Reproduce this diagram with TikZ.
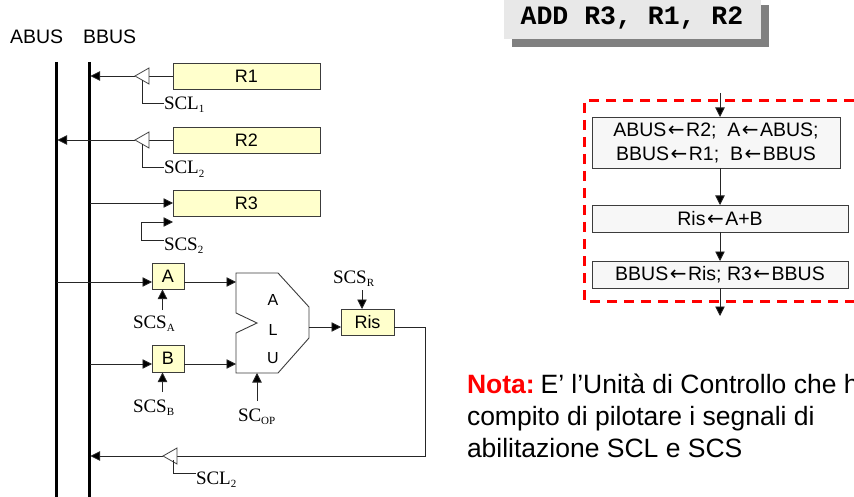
\documentclass[tikz,border=0pt]{standalone}
\usepackage{fontspec}
\setmainfont{Liberation Sans}
\newfontfamily\timesf{Liberation Serif}
\newfontfamily\courf{Liberation Mono}
\newfontfamily\arrowf{DejaVu Sans}
\usetikzlibrary{arrows.meta}
\definecolor{regfill}{RGB}{255,255,204}
\definecolor{edgegray}{RGB}{60,60,60}
\definecolor{addfill}{RGB}{232,232,232}
\definecolor{shadowgray}{RGB}{128,128,128}
\definecolor{stepfill}{RGB}{247,247,247}
\definecolor{dashred}{RGB}{255,0,0}
\newcommand{\sig}[2]{{\timesf\fontsize{19}{20}\selectfont #1\raisebox{-3.5pt}{\fontsize{11}{11}\selectfont #2}}}
\newcommand{\lar}{{\kern1.5pt\arrowf\fontsize{20}{24}\selectfont ←\kern1.5pt}}
\tikzset{
  x=1pt,y=-1pt,
  bus/.style={line width=3pt,black},
  wire/.style={line width=0.8pt,draw=black!85},
  arrowwire/.style={wire,-{Triangle[length=9.5pt,width=9.5pt,fill=black]}},
  regbox/.style={draw=edgegray,line width=0.9pt,fill=regfill,inner sep=0,outer sep=0,anchor=north west,font=\fontsize{18}{20}\selectfont},
  stepbox/.style={draw=edgegray,line width=0.9pt,fill=stepfill,inner sep=0,outer sep=0,anchor=north west,align=center,font=\fontsize{19.5}{24}\selectfont},
  buf/.style={draw=edgegray,line width=0.8pt,fill=white},
  sigtext/.style={inner sep=0,outer sep=0,anchor=base west},
  plain/.style={inner sep=0,outer sep=0},
  notetext/.style={plain,anchor=base west,font=\fontsize{26.5}{30}\selectfont},
}
\newcommand{\buffer}[3]{%
  \coordinate (#1-tip) at (#2,#3);
  \coordinate (#1-back) at (#2+14,#3);
  \coordinate (#1-ctl) at (#2+7,#3+4);
  \draw[buf] (#2,#3) -- (#2+14,#3-8) -- (#2+14,#3+8) -- cycle;
}
\begin{document}
\begin{tikzpicture}
\useasboundingbox (0,0) rectangle (854,497);
% bus labels
\node[plain,anchor=west,font=\fontsize{19.5}{20}\selectfont] (abuslbl) at (10,37) {ABUS};
\node[plain,anchor=west,font=\fontsize{19.5}{20}\selectfont] (bbuslbl) at (83,37) {BBUS};
% buses
\coordinate (atop) at (56,62); \coordinate (abot) at (56,497);
\coordinate (btop) at (89,62); \coordinate (bbot) at (89,497);
\draw[bus] (atop) -- (abot);
\draw[bus] (btop) -- (bbot);
\coordinate (a-r2) at (57.5,140);
\coordinate (b-r1) at (90.5,76);
\coordinate (b-r3) at (90,203);
\coordinate (a-ain) at (57,282);
\coordinate (b-bin) at (90,364);
\coordinate (b-res) at (90.5,456);
% registers
\node[regbox,minimum width=147pt,minimum height=26pt] (r1) at (173,63) {R1};
\node[regbox,minimum width=147pt,minimum height=26pt] (r2) at (173,127) {R2};
\node[regbox,minimum width=147pt,minimum height=26pt] (r3) at (173,190) {R3};
% buffers and wires
\draw[wire] (r1.west) -- (149,76);
\draw[arrowwire] (135,76) -- (b-r1);
\buffer{bufa}{135}{76}
\draw[wire] (r2.west) -- (149,140);
\draw[arrowwire] (135,140) -- (a-r2);
\buffer{bufb}{135}{140}
\node[sigtext] (scl1) at (164,109.5) {\sig{SCL}{1}};
\node[sigtext] (scl2) at (164,174) {\sig{SCL}{2}};
\draw[wire] (bufa-ctl) |- ([yshift=6.5pt]scl1.base west);
\draw[wire] (bufb-ctl) |- ([yshift=7pt]scl2.base west);
\draw[arrowwire] (b-r3) -- (r3.west);
\node[sigtext] (scs2) at (164,250.5) {\sig{SCS}{2}};
\coordinate (r3-en) at (173,222);
\draw[arrowwire] ([yshift=10.5pt]scs2.base west) -- (141,240) -- (141,222) -- (r3-en);
% A, B
\node[regbox,minimum width=32pt,minimum height=26pt] (a) at (152,263) {A};
\node[regbox,minimum width=32pt,minimum height=27pt] (b) at (152,345) {B};
\coordinate (a-in) at (152,282); \coordinate (a-out) at (184,282);
\coordinate (b-in) at (152,364); \coordinate (b-out) at (184,364);
\draw[arrowwire] (a-ain) -- (a-in);
\draw[arrowwire] (b-bin) -- (b-in);
% ALU
\draw[draw=edgegray,line width=0.9pt,fill=white] (236,273) -- (278,273) -- (309,307) -- (309,338) -- (278,373) -- (236,373) -- (236,333) -- (257,323) -- (236,313) -- cycle;
\coordinate (alu-a) at (236,282); \coordinate (alu-b) at (236,364);
\coordinate (alu-out) at (309,327); \coordinate (alu-op) at (257,373);
\node[plain,font=\fontsize{16}{18}\selectfont] (la) at (273,300) {A};
\node[plain,font=\fontsize{16}{18}\selectfont] (ll) at (273,330) {L};
\node[plain,font=\fontsize{16}{18}\selectfont] (lu) at (273,358) {U};
\draw[arrowwire] (a-out) -- (alu-a);
\draw[arrowwire] (b-out) -- (alu-b);
% Ris
\node[regbox,minimum width=53pt,minimum height=26pt] (ris) at (341,309) {Ris};
\coordinate (ris-in) at (341,327); \coordinate (ris-out) at (394,327);
\coordinate (ris-top) at (362,309);
\draw[arrowwire] (alu-out) -- (ris-in);
% enable signals
\node[sigtext] (scsa) at (133,328) {\sig{SCS}{A}};
\node[sigtext] (scsb) at (133,412) {\sig{SCS}{B}};
\node[sigtext] (scop) at (238,421) {\sig{SC}{OP}};
\node[sigtext] (scsr) at (333,283) {\sig{SCS}{R}};
\coordinate (a-en) at (162.5,289.5); \coordinate (b-en) at (162.5,372.5);
\coordinate (sa) at (162.5,310); \coordinate (sb) at (162.5,392);
\coordinate (sop) at (257,401); \coordinate (sr) at (362,290);
\draw[arrowwire] (sa) -- (a-en);
\draw[arrowwire] (sb) -- (b-en);
\draw[arrowwire] (sop) -- (alu-op);
\draw[arrowwire] (sr) -- (ris-top);
% result back to BBUS
\coordinate (corner) at (425,456);
\draw[wire] (ris-out) -- (425,327) -- (corner) -- (177,456);
\draw[arrowwire] (163,456) -- (b-res);
\buffer{bufc}{163}{456}
\node[sigtext] (scl3) at (196,484) {\sig{SCL}{2}};
\draw[wire] (173,460) |- ([yshift=11pt]scl3.base west);
% instruction
\fill[shadowgray] (512,5) rectangle (769,47);
\node[fill=addfill,inner sep=0,outer sep=0,anchor=north west,minimum width=257pt,minimum height=39pt] (instr) at (504,0) {};
\node[plain,anchor=base,font=\courf\bfseries\fontsize{26.5}{30}\selectfont] (instrtxt) at (632,25) {ADD R3, R1, R2};
% dashed region
\draw[dashred,line width=3pt,dash pattern=on 10pt off 7pt] (854,101) -- (584,101) -- (584,301) -- (854,301);
% steps
\node[stepbox,minimum width=248pt,minimum height=51pt] (s1) at (592,117) {ABUS\lar R2;\ \ A\lar ABUS;\\BBUS\lar R1;\ \ B\lar BBUS};
\node[stepbox,minimum width=256pt,minimum height=27pt] (s2) at (592,205) {Ris\lar A+B};
\node[stepbox,minimum width=256pt,minimum height=27pt] (s3) at (592,261) {BBUS\lar Ris; R3\lar BBUS};
\coordinate (in1) at (720,93); \coordinate (in2) at (720,117);
\coordinate (o1) at (720,168); \coordinate (i2) at (720,205);
\coordinate (o2) at (720,232); \coordinate (i3) at (720,261);
\coordinate (o3) at (720,288); \coordinate (end) at (720,316);
\draw[arrowwire] (in1) -- (in2);
\draw[arrowwire] (o1) -- (i2);
\draw[arrowwire] (o2) -- (i3);
\draw[arrowwire] (o3) -- (end);
% note
\node[notetext] (n1) at (467,393) {\textcolor{dashred}{\bfseries Nota:}\kern-1.5pt\ E’ l’Unità di Controllo che h};
\node[notetext] (n2) at (467,425) {compito di pilotare i segnali di};
\node[notetext] (n3) at (467,457) {abilitazione SCL e SCS};
\end{tikzpicture}
\end{document}
